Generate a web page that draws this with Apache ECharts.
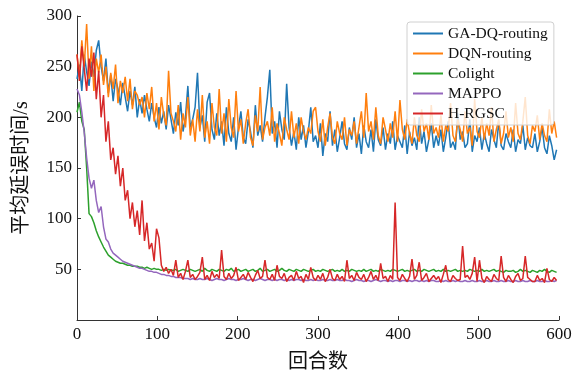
<!DOCTYPE html>
<html><head><meta charset="utf-8">
<script src="https://cdn.jsdelivr.net/npm/echarts@6/dist/echarts.min.js"></script>
<style>html,body{margin:0;padding:0;background:#fff}#c{width:584px;height:373px}</style>
</head><body><div id="c"></div>
<script>
const STEP = 3; // episodes between samples
const xTicks = [0,100,200,300,400,500,600];
const yTicks = [50,100,150,200,250,300];
const seriesNames = ['GA-DQ-routing','DQN-routing','Colight','MAPPO','H-RGSC'];

const gadq = [
238,252,226,262,245,231,255,240,266,276,
250,236,258,224,242,216,238,228,212,234,
220,206,226,212,230,200,218,204,222,208,
196,214,200,190,210,194,206,188,212,198,
184,205,192,215,186,200,231,190,198,210,
244,190,202,176,215,224,188,178,204,182,
196,172,210,184,176,200,168,190,206,180,
174,198,186,170,212,182,192,176,200,220,
247,184,196,170,206,188,178,233,190,172,
186,168,200,178,192,170,186,210,176,182,
170,194,162,184,176,206,172,188,166,180,
196,174,168,190,178,200,170,184,164,192,
176,170,188,166,198,178,172,190,168,184,
174,196,168,182,176,170,192,164,186,172,
180,168,200,174,186,166,178,194,170,182,
172,188,166,180,196,170,176,168,204,178,
186,170,174,198,166,182,176,190,168,184,
174,166,188,178,170,196,172,168,184,176,
170,188,166,178,174,192,168,180,172,170,
184,166,176,190,170,164,182,172,158,168];

const dqn = [
262,240,276,250,292,238,270,226,258,244,
262,232,250,220,244,228,252,214,236,224,
240,216,238,208,226,222,212,220,200,224,
208,230,196,214,188,220,202,192,246,204,
196,186,212,178,204,190,220,182,198,176,
208,186,222,180,196,174,214,190,182,228,
184,204,176,218,190,180,226,186,198,174,
194,208,180,172,202,186,230,178,190,196,
182,210,176,194,184,172,200,188,178,206,
180,194,174,200,186,178,190,184,206,210,
186,176,198,172,190,204,180,174,196,184,
178,200,172,188,182,196,174,190,206,180,
224,186,196,178,210,182,174,200,188,176,
194,180,206,176,217,188,178,198,184,174,
200,182,176,208,186,194,178,212,184,190,
180,202,176,192,186,214,182,176,198,188,
176,206,184,190,172,218,186,180,200,178,
194,182,210,176,188,198,174,184,206,180,
190,176,214,184,178,196,220,182,174,192,
186,202,178,194,182,176,208,184,196,180];

const colight = [
205,215,196,188,150,105,102,96,88,82,
77,72,68,64,62,60,58,57,56,56,
55,54,54,53,53,53,52,52,51,52,
51,50,51,50,50,49,50,49,50,49,
49,50,48,49,50,49,48,50,49,48,
49,50,48,51,49,48,50,49,48,50,
49,48,50,49,51,48,49,50,48,49,
50,48,49,50,48,49,51,48,49,50,
48,49,50,48,49,51,49,48,50,49,
48,50,49,48,50,49,48,49,50,48,
49,48,50,49,48,49,50,48,49,48,
50,48,49,48,50,49,48,49,48,50,
48,49,50,48,49,48,50,49,48,49,
48,50,49,48,49,50,48,49,48,49,
50,48,49,48,50,49,48,49,50,48,
49,48,50,48,49,48,49,50,48,49,
48,49,48,50,49,48,49,48,50,48,
49,48,49,50,48,49,48,47,49,48,
48,49,47,48,50,48,49,48,47,49,
48,47,49,48,50,48,47,49,48,47];

const mappo = [
228,222,205,185,160,140,130,138,118,106,
112,92,80,77,70,66,64,62,60,58,
57,56,55,54,53,52,51,51,50,49,
48,48,47,47,46,45,45,44,44,43,
43,42,42,42,41,41,41,40,41,40,
40,41,40,40,41,40,39,40,41,40,
40,39,40,41,40,40,39,40,40,41,
40,39,40,40,39,40,41,40,39,40,
40,39,40,39,40,40,39,40,39,40,
39,40,40,39,40,39,39,40,39,40,
39,39,40,39,39,40,39,39,40,39,
39,40,39,39,38,39,40,39,39,38,
39,39,38,39,40,39,38,39,39,38,
39,38,39,39,38,39,39,38,39,38,
39,39,38,39,38,39,38,39,39,38,
38,39,38,39,38,38,39,38,39,38,
38,39,38,38,39,38,38,39,38,38,
39,38,38,39,38,38,39,38,38,39,
38,38,39,38,38,39,38,38,39,38,
38,39,38,38,39,38,38,39,38,39];

const hrgsc = [
262,236,270,248,226,258,240,264,218,246,
200,222,176,196,158,170,144,162,132,150,
118,128,100,116,92,108,84,118,78,96,
70,76,58,90,81,54,48,52,46,50,
44,59,42,46,40,48,59,42,45,40,
43,47,62,40,44,39,48,42,45,41,
69,43,40,46,41,44,52,39,42,45,
40,47,42,38,44,49,41,43,59,42,
40,45,39,54,43,41,46,38,42,44,
39,48,41,43,37,45,40,52,42,39,
44,40,46,38,42,50,41,39,45,40,
43,38,59,41,44,39,47,42,40,45,
38,42,48,40,44,39,56,41,43,38,
44,40,116,42,39,45,41,38,43,60,
40,44,57,39,42,46,38,41,44,40,
43,37,45,54,40,38,44,41,39,40,
73,42,44,40,46,62,38,59,41,37,
43,40,38,45,41,39,63,42,38,44,
40,37,43,46,39,41,63,42,40,38,
38,44,39,41,37,51,40,38,42,39];

const colors = ['#1f77b4','#ff7f0e','#2ca02c','#9467bd','#d62728'];
const allValues = [gadq, dqn, colight, mappo, hrgsc];
const serif = "'Liberation Serif','Noto Sans CJK SC',serif";

const chart = echarts.init(document.getElementById('c'), null, {renderer:'canvas'});
chart.setOption({
  animation:false,
  backgroundColor:'#fff',
  grid:{left:77, right:25, top:16, bottom:53, outerBoundsMode:'none', containLabel:false},
  legend:{
    left:407, top:22, orient:'vertical',
    icon:'rect', itemWidth:30, itemHeight:2, itemGap:3,
    padding:[3,6,3,6],
    borderColor:'#d0d0d0', borderWidth:1, borderRadius:3,
    backgroundColor:'rgba(255,255,255,0.8)',
    textStyle:{fontFamily:serif, fontSize:15.5, color:'#111', lineHeight:17},
    data:seriesNames
  },
  xAxis:{
    type:'value', min:0, max:600, interval:100,
    name:'回合数', nameLocation:'middle', nameGap:30,
    nameTextStyle:{fontFamily:"'Noto Sans CJK SC'", fontSize:20, color:'#111'},
    axisLine:{lineStyle:{color:'#333', width:1}},
    axisTick:{inside:true, length:4, lineStyle:{color:'#333'}},
    axisLabel:{fontFamily:serif, fontSize:17, color:'#111', margin:6},
    splitLine:{show:false}
  },
  yAxis:{
    type:'value', min:0, max:300, interval:50,
    name:'平均延误时间/s', nameLocation:'middle', nameGap:45,
    nameTextStyle:{fontFamily:serif, fontSize:20, color:'#111'},
    axisLine:{show:true, lineStyle:{color:'#333', width:1}},
    axisTick:{show:true, inside:true, length:4, lineStyle:{color:'#333'}},
    axisLabel:{fontFamily:serif, fontSize:17, color:'#111', margin:5,
      formatter:v => (yTicks.indexOf(v) >= 0 ? String(v) : '')},
    splitLine:{show:false}
  },
  series: seriesNames.map((n,k) => ({
    name:n, type:'line', symbol:'none', showSymbol:false,
    lineStyle:{width:1.5, color:colors[k]}, itemStyle:{color:colors[k]},
    data: allValues[k].map((v,i) => [i*STEP, v])
  }))
});
</script></body></html>
